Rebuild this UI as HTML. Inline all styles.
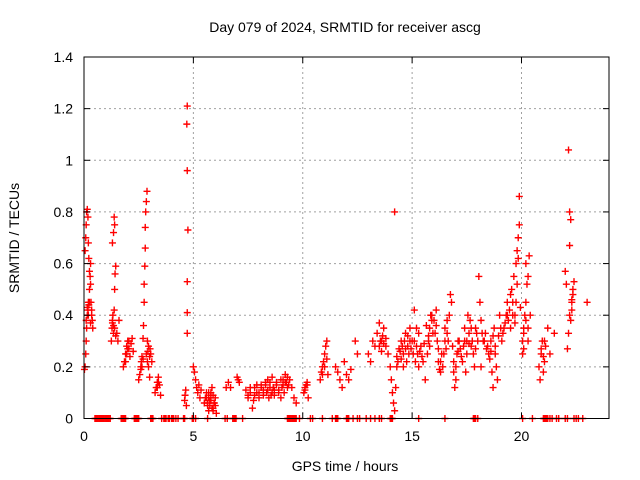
<!DOCTYPE html>
<html><head><meta charset="utf-8"><style>
body{margin:0;background:#fff}
svg{display:block;font-family:"Liberation Sans",sans-serif;font-size:14px}
</style></head><body>
<svg id="chart" width="640" height="480" viewBox="0 0 640 480">
<rect width="640" height="480" fill="#fff"/>
<g id="grid"></g><g id="marks"></g><g id="axes"></g>
</svg>
<script>
const xTicks=[0,5,10,15,20];
const yTicks=[0,0.2,0.4,0.6,0.8,1,1.2,1.4];
const yTickLabels=["0","0.2","0.4","0.6","0.8","1","1.2","1.4"];
const hours=[
0.02,0.05,0.08,0.1,0.12,0.15,0.18,0.2,0.22,0.25,0.28,0.3,0.05,0.08,0.1,0.12,0.15,0.18,0.2,0.22,0.25,0.3,0.32,0.35,0.38,0.4,
1.25,1.28,1.3,1.32,1.35,1.38,1.4,1.42,1.45,1.3,1.35,1.4,1.38,1.5,1.55,1.6,
1.8,1.85,1.9,1.95,2.0,2.05,2.1,2.15,2.2,2.25,
2.5,2.55,2.6,2.62,2.65,2.7,2.72,2.75,2.75,2.78,2.8,2.8,2.82,2.85,2.88,2.9,2.92,2.95,3.0,3.02,3.05,3.1,
3.25,3.3,3.35,3.4,3.45,3.5,
4.6,4.62,4.65,4.68,4.72,4.72,4.72,4.75,4.72,4.7,4.72,
5.0,5.05,5.1,5.15,5.2,5.25,5.3,5.35,
5.5,5.55,5.6,5.65,5.7,5.75,5.8,5.85,5.9,5.95,6.0,6.05,
6.5,6.6,6.7,7.0,7.05,7.1,
7.4,7.5,7.6,7.7,7.75,7.8,7.9,8.0,8.1,8.2,8.3,8.35,8.4,8.5,8.55,8.6,8.7,8.8,8.9,9.0,9.05,9.1,9.2,9.25,9.3,9.35,9.4,9.5,9.6,9.7,
10.05,10.1,10.15,10.2,10.25,
10.8,10.85,10.9,10.95,11.0,11.05,11.1,11.15,
11.5,11.6,11.7,11.8,11.9,12.0,12.1,12.2,12.4,12.5,
13.0,13.1,13.2,13.3,13.4,13.5,13.6,13.7,13.8,13.9,14.0,14.05,14.1,14.15,14.2,14.25,14.3,14.4,14.5,14.6,14.7,14.8,14.9,14.2,
15.0,15.1,15.2,15.25,15.3,15.4,15.5,15.6,15.7,15.75,15.8,15.85,15.9,15.95,
16.0,16.1,16.15,16.2,16.3,16.4,16.45,16.5,16.6,16.7,16.75,16.8,16.85,16.9,17.0,17.05,
17.1,17.2,17.3,17.4,17.5,17.55,17.6,17.7,17.8,17.85,17.9,18.0,17.45,17.65,
18.05,18.1,18.15,18.2,18.3,18.4,18.5,18.6,18.65,18.7,18.75,18.8,18.9,18.95,19.0,18.15,
19.2,19.3,19.35,19.4,19.45,19.5,19.55,19.6,19.65,19.7,19.75,19.8,19.85,19.9,19.9,19.85,19.8,19.95,
20.05,20.1,20.15,20.2,20.25,20.3,20.35,20.4,20.1,20.2,20.3,20.05,
20.8,20.85,20.9,20.95,21.0,21.05,21.1,21.2,21.3,21.5,
22.0,22.05,22.1,22.15,22.2,22.25,22.3,22.35,22.2,22.25,22.15,22.3,22.4,23.0];
const srmtid=[
0.19,0.2,0.25,0.3,0.35,0.4,0.42,0.45,0.44,0.5,0.55,0.6,0.65,0.7,0.75,0.8,0.81,0.78,0.68,0.62,0.57,0.52,0.45,0.42,0.38,0.35,
0.3,0.35,0.38,0.4,0.36,0.42,0.5,0.56,0.59,0.68,0.72,0.75,0.78,0.33,0.3,0.38,
0.2,0.22,0.25,0.28,0.3,0.27,0.24,0.29,0.31,0.26,
0.15,0.17,0.2,0.22,0.24,0.31,0.36,0.45,0.52,0.59,0.66,0.74,0.8,0.84,0.88,0.3,0.26,0.2,0.16,0.27,0.25,0.22,
0.1,0.12,0.14,0.16,0.13,0.09,
0.07,0.09,0.11,0.05,0.33,0.41,0.53,0.73,0.96,1.14,1.21,
0.2,0.18,0.15,0.12,0.1,0.13,0.08,0.11,
0.06,0.08,0.1,0.05,0.03,0.07,0.09,0.12,0.04,0.06,0.08,0.02,
0.12,0.14,0.12,0.16,0.15,0.14,
0.11,0.09,0.1,0.04,0.07,0.12,0.1,0.08,0.13,0.11,0.14,0.1,0.15,0.12,0.09,0.16,0.11,0.13,0.1,0.08,0.12,0.15,0.17,0.14,0.16,0.13,0.15,0.12,0.08,0.06,
0.1,0.12,0.13,0.14,0.08,
0.15,0.18,0.2,0.22,0.25,0.28,0.3,0.17,
0.2,0.18,0.15,0.12,0.22,0.17,0.15,0.19,0.3,0.25,
0.25,0.22,0.3,0.28,0.33,0.37,0.3,0.35,0.28,0.25,0.2,0.15,0.1,0.06,0.03,0.12,0.2,0.27,0.3,0.25,0.33,0.28,0.35,0.8,
0.3,0.42,0.35,0.25,0.2,0.28,0.22,0.15,0.25,0.3,0.35,0.4,0.38,0.33,
0.38,0.42,0.3,0.22,0.18,0.2,0.25,0.3,0.33,0.4,0.48,0.45,0.28,0.18,0.15,0.25,
0.3,0.27,0.22,0.35,0.3,0.4,0.33,0.28,0.25,0.2,0.35,0.3,0.18,0.38,
0.55,0.45,0.38,0.33,0.3,0.27,0.25,0.3,0.18,0.12,0.35,0.28,0.15,0.32,0.4,0.2,
0.35,0.4,0.45,0.38,0.42,0.48,0.5,0.45,0.55,0.4,0.6,0.65,0.7,0.75,0.86,0.62,0.52,0.43,
0.3,0.35,0.4,0.45,0.52,0.55,0.63,0.4,0.27,0.6,0.3,0.25,
0.2,0.15,0.25,0.3,0.18,0.22,0.28,0.35,0.25,0.33,
0.57,0.52,0.27,0.33,0.8,0.77,0.45,0.5,0.67,0.38,1.04,0.42,0.53,0.45];
const hoursExtra=[
0.1,0.15,0.2,0.25,0.3,0.35,1.3,1.35,1.4,1.45,1.9,1.95,2.0,2.05,2.6,2.65,2.7,2.85,2.9,2.95,3.0,3.35,3.4,
5.6,5.65,5.7,5.75,5.8,5.85,5.9,5.95,6.0,5.7,5.8,5.9,
7.5,7.6,7.8,7.9,8.0,8.1,8.2,8.3,8.4,8.45,8.5,8.6,8.65,8.7,8.8,8.9,9.0,9.1,9.15,9.2,9.3,
10.1,10.2,10.9,11.0,11.1,
13.5,13.55,13.6,13.65,13.7,13.8,14.3,14.35,14.45,14.5,14.55,14.6,14.65,14.7,14.75,14.8,14.85,14.9,14.95,
15.05,15.1,15.15,15.2,15.3,15.35,15.45,15.55,15.65,15.75,15.8,15.9,
16.05,16.1,16.2,16.25,16.3,16.35,16.5,16.55,16.6,16.65,16.9,16.95,17.0,17.1,17.15,17.25,17.35,17.4,17.5,17.6,17.7,17.75,17.9,17.95,
18.25,18.35,18.45,18.55,18.6,18.7,18.8,18.85,19.05,19.1,19.15,19.25,19.35,19.5,19.6,19.7,19.75,
20.1,20.2,20.3,20.9,21.0,21.05,22.2,22.3,22.35];
const srmtidExtra=[
0.38,0.43,0.4,0.45,0.37,0.4,0.37,0.33,0.35,0.32,0.22,0.25,0.27,0.3,0.19,0.2,0.23,0.25,0.22,0.28,0.24,0.12,0.14,
0.08,0.06,0.1,0.05,0.07,0.04,0.09,0.06,0.05,0.08,0.1,0.03,
0.08,0.12,0.09,0.13,0.1,0.12,0.09,0.13,0.11,0.08,0.14,0.1,0.12,0.09,0.14,0.11,0.15,0.13,0.1,0.14,0.12,
0.11,0.13,0.17,0.2,0.23,
0.28,0.3,0.26,0.32,0.29,0.31,0.24,0.22,0.26,0.23,0.28,0.2,0.3,0.27,0.22,0.32,0.25,0.3,0.27,
0.25,0.3,0.22,0.28,0.33,0.26,0.24,0.29,0.36,0.32,0.28,0.4,
0.33,0.36,0.27,0.19,0.22,0.25,0.35,0.27,0.38,0.3,0.22,0.12,0.2,0.26,0.3,0.24,0.28,0.3,0.25,0.29,0.35,0.3,0.27,0.33,
0.3,0.33,0.28,0.23,0.26,0.32,0.25,0.2,0.35,0.3,0.33,0.37,0.4,0.35,0.4,0.37,0.45,
0.33,0.38,0.35,0.27,0.24,0.3,0.4,0.46,0.48];
const zeroHours=[0.5,0.55,0.6,0.65,0.7,0.75,0.8,0.85,0.9,0.95,1.0,1.05,1.1,1.15,1.2,1.7,1.75,1.8,1.85,1.9,2.3,2.35,2.4,2.45,2.5,3.05,3.1,3.15,3.55,3.65,3.7,3.75,3.85,3.9,4.0,4.05,4.1,4.2,4.3,4.55,4.6,4.95,5.0,5.1,5.65,6.45,6.55,6.8,6.85,6.9,6.95,7.25,9.3,9.35,9.4,9.45,9.5,9.55,9.6,9.65,9.7,9.85,10.35,10.45,10.9,11.35,11.5,11.55,11.6,12.0,12.05,12.1,12.3,12.5,12.6,12.9,13.1,13.3,13.5,13.6,14.0,14.05,14.1,15.3,16.5,17.8,17.85,17.9,18.0,20.05,20.5,21.0,21.05,21.1,21.15,21.2,21.3,21.4,21.6,21.7,22.0,22.1,22.4,22.5,22.6,22.8];

const L=84,R=609,T=57,B=418.5;
const sx=h=>L+(h/24)*(R-L);
const sy=v=>B-(v/1.4)*(B-T);
const NS="http://www.w3.org/2000/svg";
function mk(tag,attrs,parent,text){const e=document.createElementNS(NS,tag);for(const k in attrs)e.setAttribute(k,attrs[k]);if(text!==undefined)e.textContent=text;parent.appendChild(e);return e;}
const grid=document.getElementById('grid'),marks=document.getElementById('marks'),axes=document.getElementById('axes');
xTicks.forEach(t=>{
 if(t>0){const g=mk('line',{x1:sx(t),x2:sx(t),y1:T,y2:B,stroke:'#a0a0a0','stroke-dasharray':'2,3'},grid);
 
 }
 const tl=mk('text',{x:sx(t),y:441,'text-anchor':'middle',fill:'#000'},axes,String(t));
 
 
 mk('line',{x1:sx(t),x2:sx(t),y1:B,y2:B-6,stroke:'#000'},axes);
 mk('line',{x1:sx(t),x2:sx(t),y1:T,y2:T+6,stroke:'#000'},axes);
});
yTicks.forEach((t,i)=>{
 if(t>0&&t<1.4){const g=mk('line',{x1:L,x2:R,y1:sy(t),y2:sy(t),stroke:'#a0a0a0','stroke-dasharray':'2,3'},grid);
 
 }
 const tl=mk('text',{x:73,y:sy(t)+5,'text-anchor':'end',fill:'#000'},axes,yTickLabels[i]);
 
 
 mk('line',{x1:L,x2:L+6,y1:sy(t),y2:sy(t),stroke:'#000'},axes);
 mk('line',{x1:R,x2:R-6,y1:sy(t),y2:sy(t),stroke:'#000'},axes);
});
const frame=mk('rect',{x:L,y:T,width:R-L,height:B-T,fill:'none',stroke:'#000'},axes);


function plus(h,v){
 const x=sx(h),y=sy(v);
 const p=mk('path',{d:`M${x-3.5},${y}H${x+3.5}M${x},${y-3.5}V${y+3.5}`,stroke:'#f00','stroke-width':1.4,fill:'none'},marks);
 
 
}
hours.forEach((h,i)=>plus(h,srmtid[i]));
hoursExtra.forEach((h,i)=>plus(h,srmtidExtra[i]));
zeroHours.forEach(h=>plus(h,0));
const title=mk('text',{x:345,y:32,'text-anchor':'middle',fill:'#000'},axes,'Day 079 of 2024, SRMTID for receiver ascg');


const xl=mk('text',{x:345,y:471,'text-anchor':'middle',fill:'#000'},axes,'GPS time / hours');


const yl=mk('text',{x:0,y:0,'text-anchor':'middle',fill:'#000',transform:'translate(19,238) rotate(-90)'},axes,'SRMTID / TECUs');


</script>
</body></html>
